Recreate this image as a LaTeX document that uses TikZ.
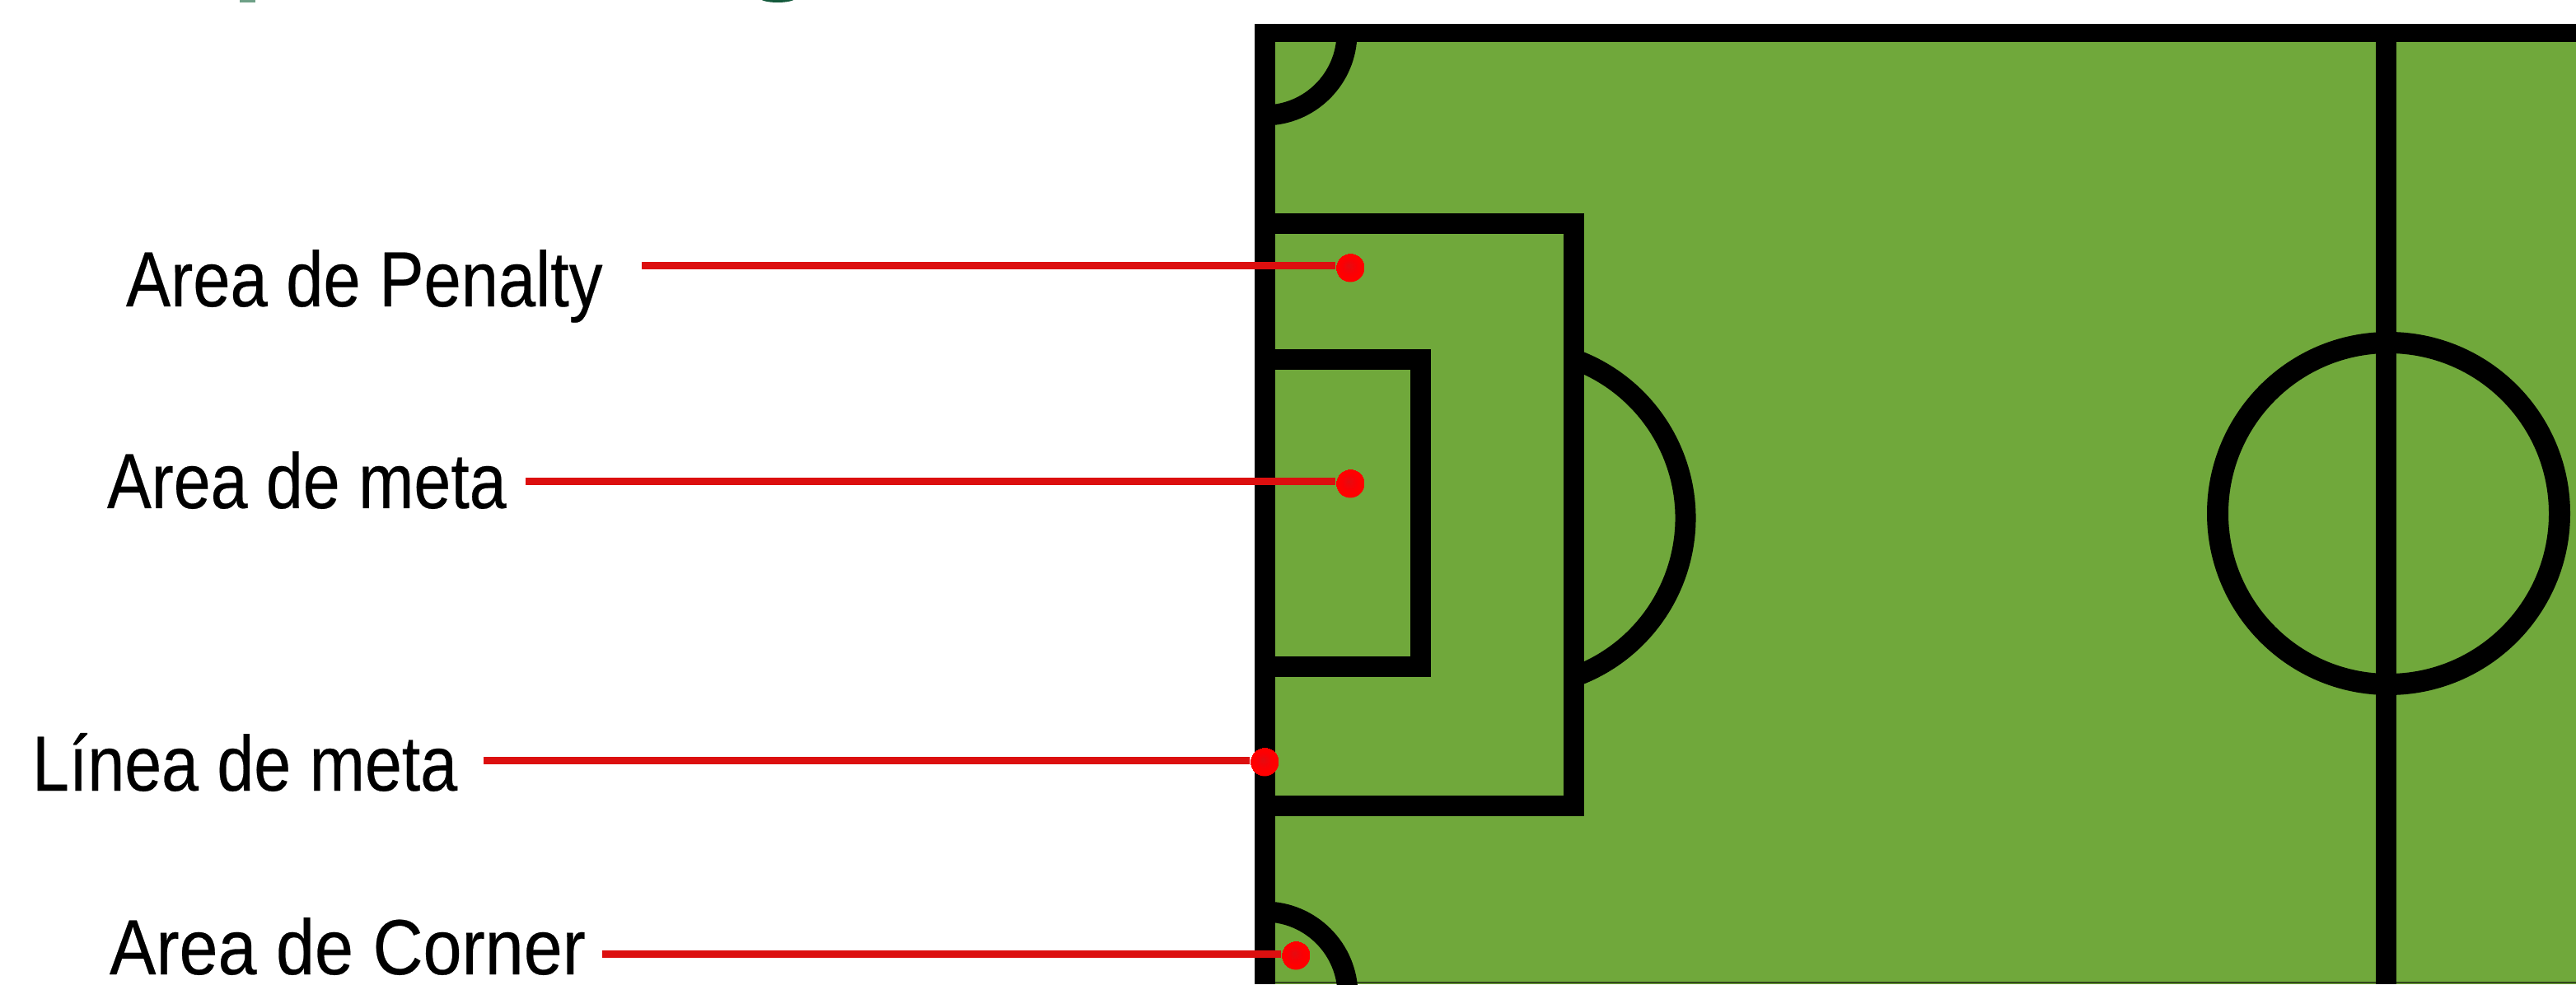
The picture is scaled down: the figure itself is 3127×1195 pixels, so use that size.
\documentclass[tikz,border=0pt]{standalone}
\usepackage{fontspec}
\setmainfont[FakeStretch=0.85,FakeBold=0.25]{Liberation Sans}
\definecolor{pitch}{HTML}{70A83B}
\definecolor{leader}{HTML}{DC0F0F}
\pgfdeclareradialshading{reddot}{\pgfpoint{-3pt}{4pt}}{%
  color(0pt)=(rgb:red,1;green,0.05;blue,0.07);
  color(12pt)=(rgb:red,1;green,0;blue,0.02);
  color(19pt)=(rgb:red,0.86;green,0;blue,0);
  color(25pt)=(rgb:red,0.75;green,0;blue,0)}
\tikzset{
  lbl/.style={anchor=base west,inner sep=0pt,outer sep=0pt,text=black,font=\fontsize{95}{100}\selectfont},
  pline/.style={draw=black,line width=25pt,line cap=butt,line join=miter},
  leadline/.style={draw=leader,line width=9pt},
  balldot/.style={circle,minimum size=35pt,inner sep=0pt,shading=reddot}
}
\begin{document}
\begin{tikzpicture}[x=1pt,y=1pt]
\useasboundingbox (0,0) rectangle (3127,1195);
\fill[white] (0,0) rectangle (3127,1195);
\begin{scope}
\clip (0,0) rectangle (3127,1195);
% remnants of the cropped title
\fill[color={rgb,255:red,110;green,160;blue,135}] (291,1192) rectangle (310,1195);
\fill[color={rgb,255:red,20;green,90;blue,60}] (944,1197) ellipse [x radius=21pt,y radius=5pt];
% pitch
\fill[pitch] (1535,0) rectangle (3127,1155);
\draw[color={rgb,255:red,50;green,70;blue,30},line width=2pt] (1548,2) -- (3127,2);
\draw[pline] (1635,1155) arc[start angle=0,end angle=-90,radius=100pt];
\draw[pline] (1535,88) arc[start angle=90,end angle=0,radius=101pt];
\draw[pline] (1841,566) ++(-68.7:205pt) arc[start angle=-68.7,end angle=68.7,radius=205pt];
\draw[pline] (1535,923.5) -- (1910,923.5) -- (1910,217) -- (1535,217);
\draw[pline] (1535,758) -- (1724,758) -- (1724,385) -- (1535,385);
\draw[pline] (2896.5,1155) -- (2896.5,0);
\draw[pline,line width=26pt] (2899.5,571.5) circle[radius=207.5pt];
\draw[pline] (1535.5,1166) -- (1535.5,0);
\draw[pline,line width=22pt] (1524,1155) -- (3127,1155);
\end{scope}
% labels
\node[lbl] (lpen) at (153,823) {\scalebox{1.007}[1]{Area de Penalty}};
\node[lbl] (lmeta) at (130,578) {Area de meta};
\node[lbl] (llin) at (39,235) {Línea de meta};
\node[lbl] (lcor) at (133,12) {\scalebox{1.047}[1]{Area de Corner}};
% leader ends
\coordinate (spen) at (779,872);
\coordinate (smeta) at (638,610);
\coordinate (slin) at (587,272);
\coordinate (scor) at (731,37);
\node[balldot] (dpen) at (1639,870) {};
\node[balldot] (dmeta) at (1639,608) {};
\node[balldot] (dlin) at (1535,270) {};
\node[balldot] (dcor) at (1573,35) {};
\draw[leadline] (spen) -- (spen -| dpen.west);
\draw[leadline] (smeta) -- (smeta -| dmeta.west);
\draw[leadline] (slin) -- (slin -| dlin.west);
\draw[leadline] (scor) -- (scor -| dcor.west);
\end{tikzpicture}
\end{document}
